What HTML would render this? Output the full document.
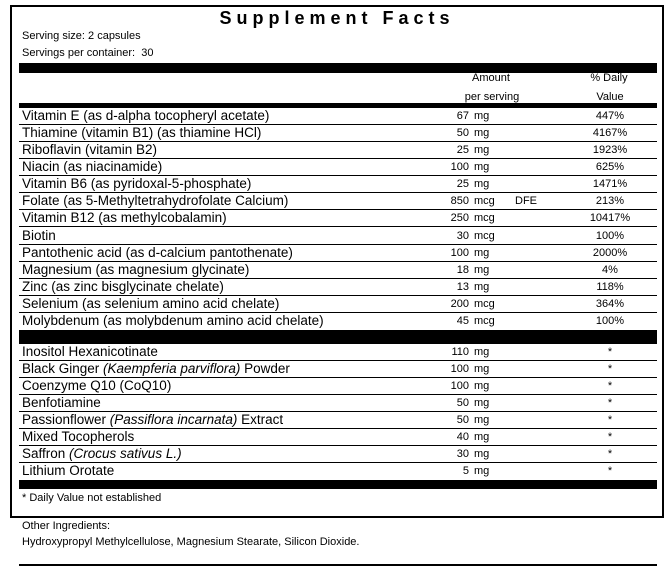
<!DOCTYPE html>
<html>
<head>
<meta charset="utf-8">
<style>
html,body{margin:0;padding:0;background:#fff;}
body{width:669px;height:571px;position:relative;overflow:hidden;font-family:"Liberation Sans",Arial,sans-serif;color:#000;}
.box{position:absolute;left:10px;top:5px;width:654px;height:513px;border:2px solid #000;box-sizing:border-box;}
.title{position:absolute;left:0;width:674px;top:8px;text-align:center;font-weight:bold;font-size:18px;line-height:20px;letter-spacing:5px;}
.sm{position:absolute;font-size:11px;line-height:13px;white-space:nowrap;}
.bar{position:absolute;left:19px;width:638px;background:#000;}
.row{position:absolute;left:19px;width:638px;height:16px;border-bottom:1px solid #000;}
.row.last{border-bottom:none;height:17px;}
.n{position:absolute;left:3px;top:0;font-size:13.5px;line-height:16px;white-space:nowrap;}
.a{position:absolute;right:188px;top:0;font-size:11px;line-height:17px;white-space:nowrap;}
.u{position:absolute;left:455px;top:0;font-size:11px;line-height:17px;white-space:nowrap;}
.d{position:absolute;left:551px;width:80px;text-align:center;top:0;font-size:11px;line-height:17px;}
</style>
</head>
<body>
<div class="box"></div>
<div class="title">Supplement Facts</div>
<div class="sm" style="left:22px;top:30px;">Serving size: 2 capsules</div>
<div class="sm" style="left:22px;top:47px;">Servings per container:&nbsp; 30</div>
<div class="bar" style="top:63px;height:10px;"></div>
<div class="sm" style="left:451px;width:80px;text-align:center;top:72px;">Amount</div>
<div class="sm" style="left:452px;width:80px;text-align:center;top:91px;">per serving</div>
<div class="sm" style="left:569px;width:80px;text-align:center;top:72px;">% Daily</div>
<div class="sm" style="left:570px;width:80px;text-align:center;top:91px;">Value</div>
<div class="bar" style="top:103px;height:5px;"></div>

<div class="row" style="top:108px;"><span class="n">Vitamin E (as d-alpha tocopheryl acetate)</span><span class="a">67</span><span class="u">mg</span><span class="d">447%</span></div>
<div class="row" style="top:125px;"><span class="n">Thiamine (vitamin B1) (as thiamine HCl)</span><span class="a">50</span><span class="u">mg</span><span class="d">4167%</span></div>
<div class="row" style="top:142px;"><span class="n">Riboflavin (vitamin B2)</span><span class="a">25</span><span class="u">mg</span><span class="d">1923%</span></div>
<div class="row" style="top:159px;"><span class="n">Niacin (as niacinamide)</span><span class="a">100</span><span class="u">mg</span><span class="d">625%</span></div>
<div class="row" style="top:176px;"><span class="n">Vitamin B6 (as pyridoxal-5-phosphate)</span><span class="a">25</span><span class="u">mg</span><span class="d">1471%</span></div>
<div class="row" style="top:193px;"><span class="n">Folate (as 5-Methyltetrahydrofolate Calcium)</span><span class="a">850</span><span class="u">mcg</span><span class="u" style="left:496px;">DFE</span><span class="d">213%</span></div>
<div class="row" style="top:210px;"><span class="n">Vitamin B12 (as methylcobalamin)</span><span class="a">250</span><span class="u">mcg</span><span class="d">10417%</span></div>
<div class="row" style="top:228px;"><span class="n">Biotin</span><span class="a">30</span><span class="u">mcg</span><span class="d">100%</span></div>
<div class="row" style="top:245px;"><span class="n">Pantothenic acid (as d-calcium pantothenate)</span><span class="a">100</span><span class="u">mg</span><span class="d">2000%</span></div>
<div class="row" style="top:262px;"><span class="n">Magnesium (as magnesium glycinate)</span><span class="a">18</span><span class="u">mg</span><span class="d">4%</span></div>
<div class="row" style="top:279px;"><span class="n">Zinc (as zinc bisglycinate chelate)</span><span class="a">13</span><span class="u">mg</span><span class="d">118%</span></div>
<div class="row" style="top:296px;"><span class="n">Selenium (as selenium amino acid chelate)</span><span class="a">200</span><span class="u">mcg</span><span class="d">364%</span></div>
<div class="row last" style="top:313px;"><span class="n">Molybdenum (as molybdenum amino acid chelate)</span><span class="a">45</span><span class="u">mcg</span><span class="d">100%</span></div>

<div class="bar" style="top:330px;height:14px;"></div>

<div class="row" style="top:344px;"><span class="n">Inositol Hexanicotinate</span><span class="a">110</span><span class="u">mg</span><span class="d">*</span></div>
<div class="row" style="top:361px;"><span class="n">Black Ginger <i>(Kaempferia parviflora)</i> Powder</span><span class="a">100</span><span class="u">mg</span><span class="d">*</span></div>
<div class="row" style="top:378px;"><span class="n">Coenzyme Q10 (CoQ10)</span><span class="a">100</span><span class="u">mg</span><span class="d">*</span></div>
<div class="row" style="top:395px;"><span class="n">Benfotiamine</span><span class="a">50</span><span class="u">mg</span><span class="d">*</span></div>
<div class="row" style="top:412px;"><span class="n">Passionflower <i>(Passiflora incarnata)</i> Extract</span><span class="a">50</span><span class="u">mg</span><span class="d">*</span></div>
<div class="row" style="top:429px;"><span class="n">Mixed Tocopherols</span><span class="a">40</span><span class="u">mg</span><span class="d">*</span></div>
<div class="row" style="top:446px;"><span class="n">Saffron <i>(Crocus sativus L.)</i></span><span class="a">30</span><span class="u">mg</span><span class="d">*</span></div>
<div class="row last" style="top:463px;"><span class="n">Lithium Orotate</span><span class="a">5</span><span class="u">mg</span><span class="d">*</span></div>

<div class="bar" style="top:480px;height:9px;"></div>
<div class="sm" style="left:22px;top:492px;">* Daily Value not established</div>

<div class="sm" style="left:22px;top:520px;">Other Ingredients:</div>
<div class="sm" style="left:22px;top:536px;">Hydroxypropyl Methylcellulose, Magnesium Stearate, Silicon Dioxide.</div>
<div class="bar" style="top:564px;height:2px;"></div>
</body>
</html>
